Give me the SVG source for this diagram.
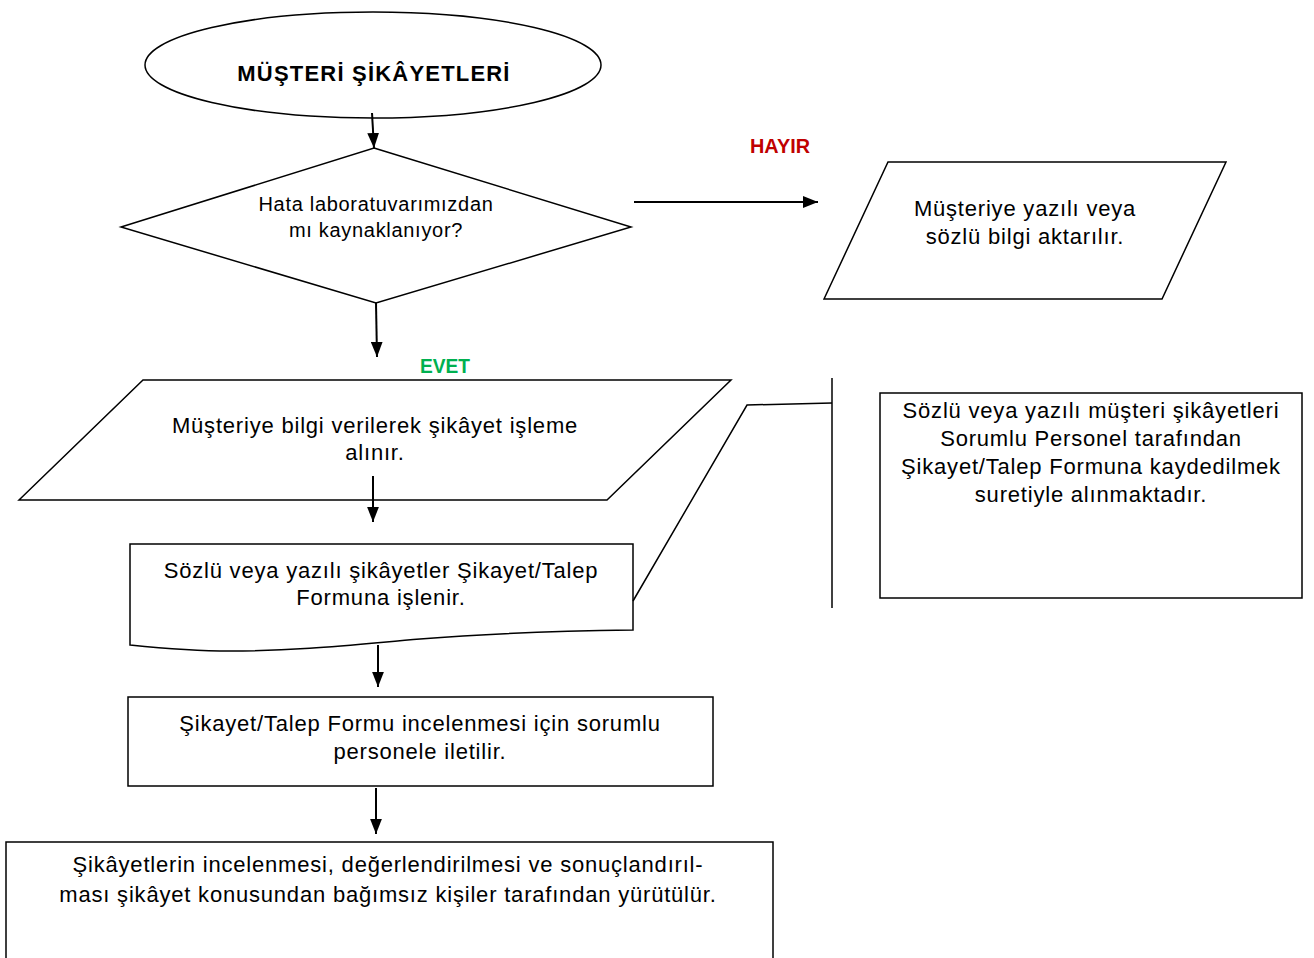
<svg xmlns="http://www.w3.org/2000/svg" width="1314" height="958" viewBox="0 0 1314 958">
<style>
.s{fill:#fff;stroke:#000;stroke-width:1.5}
.l{fill:none;stroke:#000;stroke-width:1.5}
.c{fill:none;stroke:#000;stroke-width:2}
text{font-family:"Liberation Sans",Arial,sans-serif;font-size:22px;letter-spacing:0.8px;fill:#000;text-anchor:middle}
.sm{font-size:20px;letter-spacing:0.7px}
.b{font-weight:bold;letter-spacing:1.2px}
.lab{font-weight:bold;font-size:20px;letter-spacing:0}
</style>
<defs>
<marker id="a" viewBox="0 0 14 11" refX="14" refY="5.5" markerWidth="7.5" markerHeight="6" orient="auto" markerUnits="strokeWidth"><path d="M0,0L14,5.5L0,11z" fill="#000"/></marker>
</defs>
<rect width="1314" height="958" fill="#fff"/>
<g id="start">
<ellipse class="s" cx="373" cy="65" rx="228" ry="53"/>
<text class="b" x="374" y="81">MÜŞTERİ ŞİKÂYETLERİ</text>
</g>
<g id="decision">
<polygon class="s" points="374,148 631,227 376,303 121,227"/>
<text class="sm" x="376" y="211">Hata laboratuvarımızdan</text>
<text class="sm" x="376" y="237">mı kaynaklanıyor?</text>
</g>
<g id="inform">
<polygon class="s" points="824,299 888,162 1226,162 1162,299"/>
<text x="1025" y="216">Müşteriye yazılı veya</text>
<text x="1025" y="244">sözlü bilgi aktarılır.</text>
</g>
<g id="accept">
<polygon class="s" points="19,500 143,380 731,380 607,500"/>
<text x="375" y="433">Müşteriye bilgi verilerek şikâyet işleme</text>
<text x="375" y="460">alınır.</text>
</g>
<g id="record">
<path class="s" d="M130,544 L633,544 L633,630 C560,631 480,634 420,639 C360,644 300,651 230,651 C190,651 160,648 130,645 Z"/>
<text x="381" y="578">Sözlü veya yazılı şikâyetler Şikayet/Talep</text>
<text x="381" y="605">Formuna işlenir.</text>
</g>
<g id="forward">
<rect class="s" x="128" y="697" width="585" height="89"/>
<text x="420" y="731">Şikayet/Talep Formu incelenmesi için sorumlu</text>
<text x="420" y="759">personele iletilir.</text>
</g>
<g id="evaluate">
<rect class="s" x="6" y="842" width="767" height="130"/>
<text x="388" y="872">Şikâyetlerin incelenmesi, değerlendirilmesi ve sonuçlandırıl-</text>
<text x="388" y="902">ması şikâyet konusundan bağımsız kişiler tarafından yürütülür.</text>
</g>
<g id="note">
<rect class="s" x="880" y="393" width="422" height="205"/>
<text x="1091" y="418">Sözlü veya yazılı müşteri şikâyetleri</text>
<text x="1091" y="446">Sorumlu Personel tarafından</text>
<text x="1091" y="474">Şikayet/Talep Formuna kaydedilmek</text>
<text x="1091" y="502">suretiyle alınmaktadır.</text>
</g>
<g id="connectors">
<line class="c" x1="372" y1="113" x2="374" y2="148" marker-end="url(#a)"/>
<line class="c" x1="376" y1="303" x2="377" y2="357" marker-end="url(#a)"/>
<line class="c" x1="634" y1="202" x2="818" y2="202" marker-end="url(#a)"/>
<line class="c" x1="373" y1="476" x2="373" y2="522" marker-end="url(#a)"/>
<line class="c" x1="378" y1="645" x2="378" y2="687" marker-end="url(#a)"/>
<line class="c" x1="376" y1="788" x2="376" y2="834" marker-end="url(#a)"/>
<line class="l" x1="832" y1="378" x2="832" y2="608"/>
<polyline class="l" points="832,403 747,405 633,601"/>
<text class="lab" x="780" y="153" textLength="60" lengthAdjust="spacingAndGlyphs" style="fill:#c00000">HAYIR</text>
<text class="lab" x="445" y="373" textLength="50" lengthAdjust="spacingAndGlyphs" style="fill:#00b050">EVET</text>
</g>
</svg>
